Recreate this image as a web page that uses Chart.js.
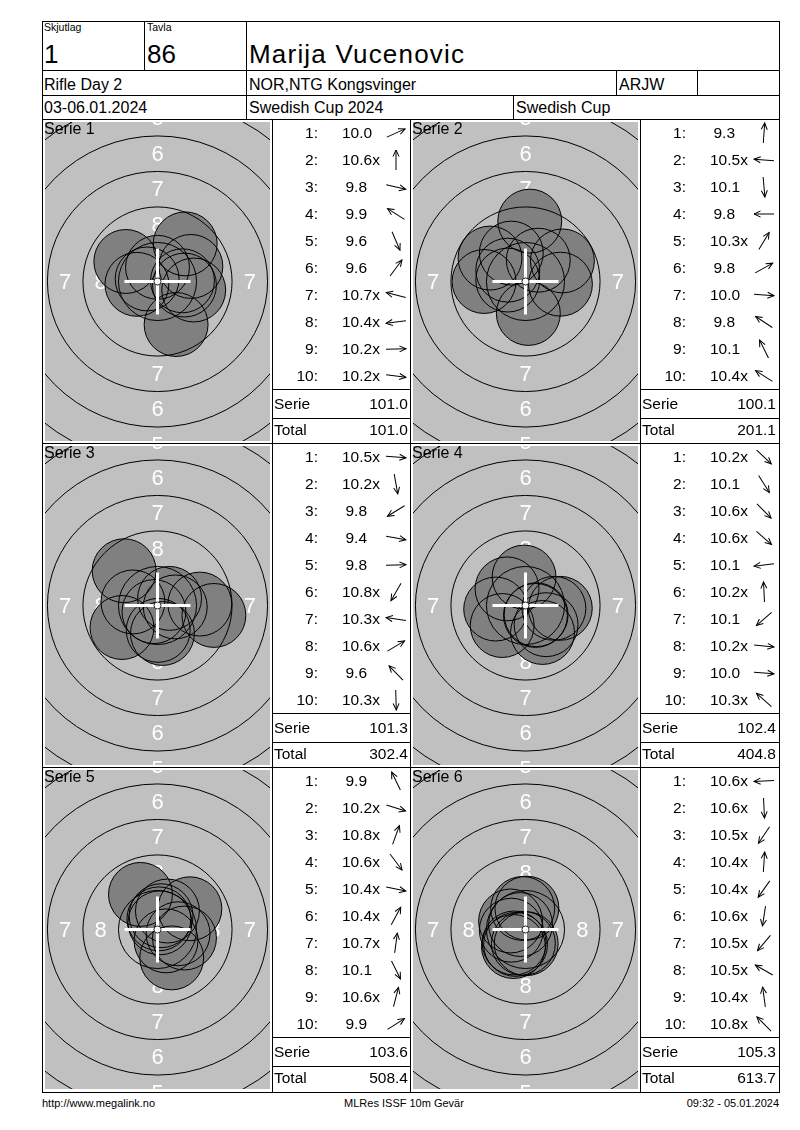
<!DOCTYPE html>
<html>
<head>
<meta charset="utf-8">
<title>Marija Vucenovic - Swedish Cup 2024</title>
<script src="https://cdn.jsdelivr.net/npm/chart.js@4.4.1/dist/chart.umd.min.js"></script>
<style>
  body { margin:0; background:#fff; font-family:"Liberation Sans", Arial, sans-serif; color:#000; }
  #sheet { position:relative; width:800px; height:1130px; overflow:hidden; }
  .ln { position:absolute; background:#000; }
  .t { position:absolute; line-height:1; white-space:nowrap; transform:translateY(-50%); }
  .t.r { transform:translate(-100%,-50%); }
  .t.c { transform:translate(-50%,-50%); }
  canvas { position:absolute; }
  svg.arrow { position:absolute; overflow:visible; }
</style>
</head>
<body>
<div id="sheet"></div>
<script>
// ring radii in mm (ISSF 10m air rifle), ring 1 .. ring 10
const ringRadius = [22.75, 20.25, 17.75, 15.25, 12.75, 10.25, 7.75, 5.25, 2.75, 0.25];
const ringLabels = ["1", "2", "3", "4", "5", "6", "7", "8"];
const pelletRadius = 2.25;
const shotNumbers = ["1:", "2:", "3:", "4:", "5:", "6:", "7:", "8:", "9:", "10:"];
const seriesNames = ["Serie 1", "Serie 2", "Serie 3", "Serie 4", "Serie 5", "Serie 6"];

// shot positions in mm from the centre (x right, y up) and the scores
const s1X = [2.35, 0.0, 2.55, -2.23, 1.31, 1.95, -0.73, -1.45, 1.76, 1.9];
const s1Y = [1.06, 1.0, -0.6, 1.41, -3.03, 2.65, 0.18, -0.2, 0.05, -0.25];
const s1Score = ["10.0", "10.6x", "9.8", "9.9", "9.6", "9.6", "10.7x", "10.4x", "10.2x", "10.2x"];

const s2X = [0.3, -1.25, 0.2, -2.92, 0.9, 2.6, 2.46, -2.5, -1.0, -1.25];
const s2Y = [4.25, 0.1, -2.25, 0.0, 1.5, 1.45, -0.19, 1.65, 2.0, 0.8];
const s2Score = ["9.3", "10.5x", "10.1", "9.8", "10.3x", "9.8", "10.0", "9.8", "10.1", "10.4x"];

const s3X = [1.25, 0.35, -2.5, 3.97, 2.98, -0.25, -1.73, 0.85, -2.35, 0.05];
const s3Y = [-0.1, -1.97, -1.55, -0.7, 0.1, -0.43, 0.25, 0.5, 2.45, -1.75];
const s3Score = ["10.5x", "10.2x", "9.8", "9.4", "9.8", "10.8x", "10.3x", "10.6x", "9.6", "10.3x"];

const s4X = [1.45, 1.2, 0.7, 0.75, -2.1, -0.1, -1.64, 2.0, 2.45, -1.3];
const s4Y = [-1.35, -1.9, -0.7, -0.65, -0.25, 2.0, -1.41, -0.2, -0.2, 1.17];
const s4Score = ["10.2x", "10.1", "10.6x", "10.6x", "10.1", "10.2x", "10.1", "10.2x", "10.0", "10.3x"];

const s5X = [-1.2, 1.9, 0.17, 0.6, 1.45, 0.7, 0.1, 1.0, 0.25, 2.28];
const s5Y = [2.47, -0.6, 0.47, -0.8, -0.3, 1.3, 0.75, -2.0, 0.97, 1.46];
const s5Score = ["9.9", "10.2x", "10.8x", "10.6x", "10.4x", "10.4x", "10.7x", "10.1", "10.6x", "9.9"];

const s6X = [-1.0, 0.05, -0.7, 0.1, -0.85, -0.15, -0.8, -1.05, -0.2, -0.35];
const s6Y = [-0.05, -1.0, -1.05, 1.5, -1.2, -0.98, -0.95, 0.6, 1.48, 0.35];
const s6Score = ["10.6x", "10.6x", "10.5x", "10.4x", "10.4x", "10.6x", "10.5x", "10.5x", "10.4x", "10.8x"];

const seriesX = [s1X, s2X, s3X, s4X, s5X, s6X];
const seriesY = [s1Y, s2Y, s3Y, s4Y, s5Y, s6Y];
const seriesScores = [s1Score, s2Score, s3Score, s4Score, s5Score, s6Score];

const headLabels = ["Skjutlag", "Tavla"];
const headValues = ["1", "86"];
const shooterName = "Marija Vucenovic";
const infoRow2 = ["Rifle Day 2", "NOR,NTG Kongsvinger", "ARJW"];
const infoRow3 = ["03-06.01.2024", "Swedish Cup 2024", "Swedish Cup"];
const footerTexts = ["http://www.megalink.no", "MLRes ISSF 10m Gevär", "09:32 - 05.01.2024"];

const PX_PER_MM = 14.2;
const sheet = document.getElementById("sheet");

function line(x, y, w, h){
  const d = document.createElement("div");
  d.className = "ln";
  d.style.cssText = `left:${x}px;top:${y}px;width:${w}px;height:${h}px`;
  sheet.appendChild(d);
}
function hline(x1, x2, y){ line(x1, y, x2 - x1, 1); }
function vline(x, y1, y2){ line(x, y1, 1, y2 - y1); }

function text(x, y, str, size, align){
  const d = document.createElement("div");
  d.className = "t" + (align ? " " + align : "");
  d.style.left = x + "px";
  d.style.top = y + "px";
  d.style.fontSize = size + "px";
  d.textContent = str;
  sheet.appendChild(d);
  return d;
}

function arrow(cx, cy, deg){
  const svg = document.createElementNS("http://www.w3.org/2000/svg", "svg");
  svg.setAttribute("class", "arrow");
  svg.setAttribute("width", 24);
  svg.setAttribute("height", 24);
  svg.style.left = (cx - 12) + "px";
  svg.style.top = (cy - 12) + "px";
  svg.innerHTML = `<g transform="rotate(${-deg} 12 12)" fill="none" stroke="#000" stroke-width="1">
    <line x1="2" y1="12" x2="22" y2="12"/><polyline points="15.5,9 22,12 15.5,15"/></g>`;
  sheet.appendChild(svg);
}

// header frame
hline(42, 780, 21); hline(42, 780, 70); hline(42, 780, 95); hline(42, 780, 119);
vline(144, 21, 70); vline(246, 21, 119);
vline(616, 70, 95); vline(697, 70, 95); vline(513, 95, 119);

text(44, 27, headLabels[0], 10.5);
text(147, 27, headLabels[1], 10.5);
text(44, 54, headValues[0], 26);
text(147, 54, headValues[1], 26);
text(249, 54, shooterName, 26).style.letterSpacing = "1.2px";
text(44, 85, infoRow2[0], 16);
text(249, 85, infoRow2[1], 16);
text(619, 85, infoRow2[2], 16);
text(44, 108, infoRow3[0], 16);
text(249, 108, infoRow3[1], 16);
text(516, 108, infoRow3[2], 16);

// grid frame
hline(42, 780, 443); hline(42, 780, 767); hline(42, 780, 1092);
vline(42, 21, 1093); vline(779, 21, 1093);
vline(272, 119, 1092); vline(410, 119, 1092); vline(640, 119, 1092);

text(42, 1103, footerTexts[0], 11);
text(404, 1103, footerTexts[1], 11, "c");
text(779, 1103, footerTexts[2], 11, "r");

function mmToPx(chart, mm){
  const s = chart.scales.x;
  return Math.abs(s.getPixelForValue(mm) - s.getPixelForValue(0));
}

const targetFace = {
  id: "targetFace",
  beforeDatasetsDraw(chart){
    const {ctx, chartArea: a, scales: {x, y}} = chart;
    ctx.save();
    ctx.fillStyle = "#c0c0c0";
    ctx.fillRect(a.left, a.top, a.width, a.height);
    ctx.beginPath();
    ctx.rect(a.left, a.top, a.width, a.height);
    ctx.clip();
    ctx.fillStyle = "#ffffff";
    ctx.font = '22px "Liberation Sans", Arial, sans-serif';
    ctx.textAlign = "center";
    ctx.textBaseline = "middle";
    ringLabels.forEach((lab, i) => {
      const r = (ringRadius[i] + ringRadius[i + 1]) / 2;
      [[0, r], [0, -r], [r, 0], [-r, 0]].forEach(([vx, vy]) => {
        ctx.fillText(lab, x.getPixelForValue(vx), y.getPixelForValue(vy) + 1);
      });
    });
    ctx.restore();
  }
};

function drawTarget(canvas, xs, ys){
  const pts = xs.map((v, i) => ({x: v, y: ys[i]}));
  const centre = [{x: 0, y: 0}];
  const rings = ringRadius.slice(0, 9).map(() => ({x: 0, y: 0}));
  const halfX = canvas.width / 2 / PX_PER_MM;
  const halfY = canvas.height / 2 / PX_PER_MM;
  const pellet = ctx => mmToPx(ctx.chart, pelletRadius);

  new Chart(canvas, {
    type: "scatter",
    data: {
      datasets: [
        { data: pts, pointRadius: pellet, pointBackgroundColor: "#808080", pointBorderWidth: 0, order: 5 },
        { data: pts, pointRadius: pellet, pointBackgroundColor: "rgba(0,0,0,0)", pointBorderColor: "#000", pointBorderWidth: 1, order: 4 },
        { data: rings,
          pointRadius: ctx => ctx.dataIndex === undefined ? 0 : mmToPx(ctx.chart, ringRadius[ctx.dataIndex]),
          pointBackgroundColor: "rgba(0,0,0,0)", pointBorderColor: "#000", pointBorderWidth: 1, order: 3 },
        { data: centre, pointStyle: "cross", pointRadius: 33, pointBorderColor: "#fff", pointBorderWidth: 3, order: 2 },
        { data: centre, pointRadius: ctx => mmToPx(ctx.chart, ringRadius[9]),
          pointBackgroundColor: "#fff", pointBorderColor: "#222", pointBorderWidth: 1, order: 1 }
      ]
    },
    options: {
      responsive: false,
      animation: false,
      events: [],
      layout: { padding: 0, autoPadding: false },
      plugins: { legend: { display: false }, tooltip: { enabled: false } },
      scales: {
        x: { type: "linear", display: false, min: -halfX, max: halfX },
        y: { type: "linear", display: false, min: -halfY, max: halfY }
      }
    },
    plugins: [targetFace]
  });
}

let running = 0;
for (let k = 0; k < 6; k++){
  const row = Math.floor(k / 2), col = k % 2;
  const P = 119 + 324 * row;
  const tl = col ? 410 : 42;
  const bl = col ? 640 : 272;
  const br = col ? 779 : 410;

  const canvas = document.createElement("canvas");
  canvas.width = 225;
  canvas.height = 319;
  canvas.style.left = (tl + 3) + "px";
  canvas.style.top = (P + 3) + "px";
  sheet.appendChild(canvas);
  text(tl + 2, P + 10, seriesNames[k], 16);
  drawTarget(canvas, seriesX[k], seriesY[k]);

  const sc = seriesScores[k];
  sc.forEach((s, i) => {
    const y = P + 14 + 27 * i;
    text(bl + 46, y, shotNumbers[i], 15.5, "r");
    text(bl + (parseFloat(s) < 10 ? 73.5 : 70), y, s, 15.5);
    arrow(bl + 124, y, Math.atan2(seriesY[k][i], seriesX[k][i]) * 180 / Math.PI);
  });
  const serie = sc.reduce((a, s) => a + parseFloat(s), 0);
  running += serie;
  hline(bl, br, P + 270);
  hline(bl, br, P + 299);
  text(bl + 2, P + 285, "Serie", 15.5);
  text(bl + 136, P + 285, serie.toFixed(1), 15.5, "r");
  text(bl + 2, P + 311, "Total", 15.5);
  text(bl + 136, P + 311, running.toFixed(1), 15.5, "r");
}
</script>
</body>
</html>
